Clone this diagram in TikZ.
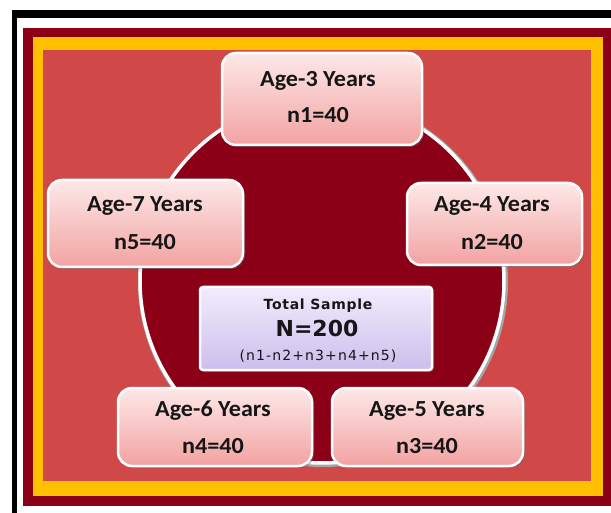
\documentclass[tikz,border=0pt]{standalone}
\usepackage{fontspec}
\usetikzlibrary{shadows}
\newfontfamily\boxfont[FakeStretch=1.05]{Carlito}
\newfontfamily\dvfont{DejaVu Sans}
\definecolor{darkred}{RGB}{139,0,22}
\definecolor{goldy}{RGB}{255,192,0}
\definecolor{midred}{RGB}{208,72,72}
\definecolor{pinktop}{RGB}{253,232,232}
\definecolor{pinkbot}{RGB}{243,162,162}
\definecolor{lavtop}{RGB}{242,236,253}
\definecolor{lavbot}{RGB}{204,190,236}
\definecolor{txt}{RGB}{22,22,22}
\tikzset{
  agebox/.style={draw=white, line width=2.5pt, rounded corners=14pt,
    top color=pinktop, bottom color=pinkbot,
    drop shadow={shadow xshift=2pt, shadow yshift=-2pt, opacity=0.45, fill=black!60}},
  totbox/.style={draw=white, line width=2.5pt, rounded corners=3pt,
    top color=lavtop, bottom color=lavbot,
    drop shadow={shadow xshift=2pt, shadow yshift=-2pt, opacity=0.45, fill=black!60}},
  agetext/.style={anchor=base, inner sep=0pt, text=txt, font=\boxfont\bfseries\fontsize{23}{23}\selectfont},
}
\begin{document}
\begin{tikzpicture}[x=1pt,y=-1pt]
\useasboundingbox (0,0) rectangle (611,513);
\fill[white] (0,0) rectangle (611,513);
% black frame
\fill[black] (12,10) rectangle (611,18);
\fill[black] (12,10) rectangle (17,513);
% bands
\fill[darkred] (23,28) rectangle (611,506);
\fill[goldy] (33,37) rectangle (603,496);
\fill[midred] (43,50) rectangle (591,481);
% ring
\draw[black!35, line width=6pt] (323,282) circle (182);
\draw[white, line width=3.5pt, fill=darkred] (322,281) circle (182);
% boxes
\path[agebox] (222,53) rectangle (422,145);
\node (t1a) [agetext] at (318,87) {Age-3 Years};
\node (t1b) [agetext] at (318,123) {n1=40};
\path[agebox] (48,180) rectangle (243,267);
\node (t5a) [agetext] at (145,212) {Age-7 Years};
\node (t5b) [agetext] at (145,250) {n5=40};
\path[agebox] (407,183) rectangle (582,265);
\node (t2a) [agetext] at (492,212) {Age-4 Years};
\node (t2b) [agetext] at (492,250) {n2=40};
\path[agebox] (118,388) rectangle (312,466);
\node (t4a) [agetext] at (213,416) {Age-6 Years};
\node (t4b) [agetext] at (213,453) {n4=40};
\path[agebox] (332,388) rectangle (523,466);
\node (t3a) [agetext] at (427,416) {Age-5 Years};
\node (t3b) [agetext] at (427,453) {n3=40};
% total box
\path[totbox] (200,287) rectangle (432,370);
\node (ta) [anchor=base, inner sep=0pt, text=txt, font=\dvfont\bfseries\fontsize{14}{14}\selectfont] at (318,309) {\addfontfeature{LetterSpace=5}Total Sample};
\node (tb) [anchor=base, inner sep=0pt, text=txt, font=\dvfont\bfseries\fontsize{22}{22}\selectfont] at (317,337) {N=200};
\node (tc) [anchor=base, inner sep=0pt, text=txt, font=\dvfont\fontsize{14}{14}\selectfont] at (318,360) {\addfontfeature{LetterSpace=8}(n1-n2+n3+n4+n5)};
\end{tikzpicture}
\end{document}
